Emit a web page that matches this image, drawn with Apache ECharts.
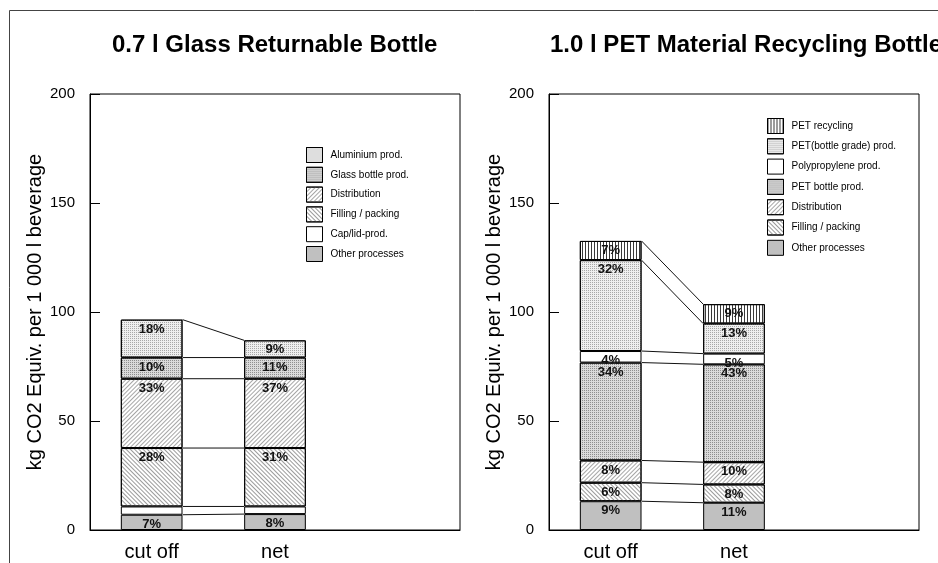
<!DOCTYPE html>
<html><head><meta charset="utf-8">
<script src="https://cdn.jsdelivr.net/npm/echarts@6/dist/echarts.min.js"></script>
<style>html,body{margin:0;padding:0;background:#fff;}#c{width:938px;height:563px;}</style>
</head><body><div id="c"></div>
<script>
// ---------- DATA ----------
const categories = ['cut off', 'net', ''];
const yName = 'kg CO2 Equiv. per 1 000 l beverage';
const titleGlass = '0.7 l Glass Returnable Bottle';
const titlePet = '1.0 l PET Material Recycling Bottle';

// Left chart (stack order bottom -> top)
const glassNames = ['Other processes', 'Cap/lid-prod.', 'Filling / packing', 'Distribution', 'Glass bottle prod.', 'Aluminium prod.'];
const glassOther = [7.0, 7.3];
const glassCap = [3.8, 3.5];
const glassFilling = [26.8, 26.8];
const glassDistribution = [31.8, 31.8];
const glassBottle = [9.7, 9.7];
const glassAluminium = [17.4, 7.9];
const glassOtherPct = ['7%', '8%'];
const glassCapPct = ['', ''];
const glassFillingPct = ['28%', '31%'];
const glassDistributionPct = ['33%', '37%'];
const glassBottlePct = ['10%', '11%'];
const glassAluminiumPct = ['18%', '9%'];

// Right chart (stack order bottom -> top)
const petNames = ['Other processes', 'Filling / packing', 'Distribution', 'PET bottle prod.', 'Polypropylene prod.', 'PET(bottle grade) prod.', 'PET recycling'];
const petOther = [13.2, 12.5];
const petFilling = [8.5, 8.4];
const petDistribution = [10.2, 10.2];
const petBottle = [44.9, 44.9];
const petPolypropylene = [5.3, 4.9];
const petGrade = [41.7, 13.8];
const petRecycling = [8.8, 8.9];
const petOtherPct = ['9%', '11%'];
const petFillingPct = ['6%', '8%'];
const petDistributionPct = ['8%', '10%'];
const petBottlePct = ['34%', '43%'];
const petPolypropylenePct = ['4%', '5%'];
const petGradePct = ['32%', '13%'];
const petRecyclingPct = ['7%', '9%'];

// ---------- STYLES ----------
const FONT = 'Liberation Sans, Arial, Helvetica, sans-serif';
function dots(bg, fg) { return { color: bg, decal: { symbol: 'rect', symbolSize: 1, dashArrayX: [1, 1], dashArrayY: [1, 1], color: fg } }; }
function diag(rot, fg, gap) { return { color: '#ffffff', decal: { symbol: 'rect', symbolSize: 1, dashArrayX: [1, 0], dashArrayY: [1, gap], rotation: rot, color: fg } }; }
const styleMap = {
  'Aluminium prod.': dots('#efefef', '#a8a8a8'),
  'PET(bottle grade) prod.': dots('#efefef', '#a8a8a8'),
  'Glass bottle prod.': dots('#dadada', '#8e8e8e'),
  'PET bottle prod.': dots('#dadada', '#8e8e8e'),
  'Distribution': diag(-Math.PI / 4, '#a6a6a6', 2),
  'Filling / packing': diag(Math.PI / 4, '#9a9a9a', 1.6),
  'Cap/lid-prod.': { color: '#ffffff' },
  'Polypropylene prod.': { color: '#ffffff' },
  'Other processes': { color: '#c0c0c0' },
  'PET recycling': { color: '#ffffff', decal: { symbol: 'rect', symbolSize: 1, dashArrayX: [1, 1.5], dashArrayY: [1, 0], color: '#3a3a3a' } }
};

function bar(name, values, pct, g, stack) {
  const st = styleMap[name];
  return {
    type: 'bar', name, stack, xAxisIndex: g, yAxisIndex: g, barWidth: '50%',
    data: values,
    itemStyle: Object.assign({ borderColor: '#000', borderWidth: 1 }, st),
    label: { show: true, position: 'insideTop', distance: 3, fontSize: 13, fontWeight: 'bold', color: '#111', fontFamily: FONT,
      formatter: p => pct[p.dataIndex] },
    emphasis: { disabled: true }
  };
}
function cumulative(list) {
  const out = []; let a = 0, b = 0;
  list.forEach(v => { a += v[0]; b += v[1]; out.push([a, b]); });
  return out;
}
function connectors(list, g) {
  return {
    type: 'custom', xAxisIndex: g, yAxisIndex: g, silent: true, z: 3,
    dimensions: ['cut', 'net'], encode: { y: ['cut', 'net'] },
    data: cumulative(list),
    renderItem: (params, api) => {
      const half = api.size([1, 0])[0] * 0.25;
      const p1 = api.coord([0, api.value(0)]);
      const p2 = api.coord([1, api.value(1)]);
      return { type: 'line', shape: { x1: p1[0] + half, y1: p1[1], x2: p2[0] - half, y2: p2[1] }, style: { stroke: '#111', lineWidth: 1 } };
    }
  };
}

const glassVals = [glassOther, glassCap, glassFilling, glassDistribution, glassBottle, glassAluminium];
const glassPcts = [glassOtherPct, glassCapPct, glassFillingPct, glassDistributionPct, glassBottlePct, glassAluminiumPct];
const petVals = [petOther, petFilling, petDistribution, petBottle, petPolypropylene, petGrade, petRecycling];
const petPcts = [petOtherPct, petFillingPct, petDistributionPct, petBottlePct, petPolypropylenePct, petGradePct, petRecyclingPct];

const series = [];
glassNames.forEach((n, i) => series.push(bar(n, glassVals[i], glassPcts[i], 0, 'glass')));
petNames.forEach((n, i) => series.push(bar(n, petVals[i], petPcts[i], 1, 'pet')));
series.push(connectors(glassVals, 0));
series.push(connectors(petVals, 1));

function yAxis(g) {
  return {
    gridIndex: g, type: 'value', min: 0, max: 200, interval: 50,
    axisLine: { show: true, lineStyle: { color: '#000', width: 1 } },
    axisTick: { show: true, inside: true, length: 10, lineStyle: { color: '#000' } },
    splitLine: { show: false },
    axisLabel: { fontSize: 15, color: '#000', margin: 15, fontFamily: FONT },
    name: yName, nameLocation: 'middle', nameGap: 45,
    nameTextStyle: { fontSize: 20, color: '#000', fontFamily: FONT }
  };
}
function xAxis(g) {
  return {
    gridIndex: g, type: 'category', data: categories,
    axisLine: { lineStyle: { color: '#000', width: 1 } },
    axisTick: { show: false },
    axisLabel: { fontSize: 20, color: '#000', margin: 12, fontFamily: FONT, interval: 0 }
  };
}
function legend(names, left, top, gap) {
  return {
    orient: 'vertical', left, top, padding: 0, itemWidth: 16, itemHeight: 15, itemGap: gap,
    icon: 'rect', selectedMode: false, data: names,
    itemStyle: { borderColor: '#000', borderWidth: 1 },
    textStyle: { fontSize: 10, color: '#000', fontFamily: FONT, padding: [0, 0, 0, 3] }
  };
}

const chart = echarts.init(document.getElementById('c'), null, { renderer: 'canvas' });
chart.setOption({
  animation: false,
  backgroundColor: '#fff',
  textStyle: { fontFamily: FONT },
  graphic: [
    { type: 'rect', shape: { x: 9.5, y: 10.5, width: 1000, height: 700 }, style: { fill: 'none', stroke: '#444', lineWidth: 1 }, silent: true },
    { type: 'text', x: 112, y: 33, style: { text: titleGlass, align: 'left', verticalAlign: 'top', font: 'bold 24px ' + FONT, fill: '#000' } },
    { type: 'text', x: 550, y: 33, style: { text: titlePet, align: 'left', verticalAlign: 'top', font: 'bold 24px ' + FONT, fill: '#000' } }
  ],
  grid: [
    { left: 90, top: 94, width: 370, height: 436, show: true, borderColor: '#000', borderWidth: 1, backgroundColor: 'transparent' },
    { left: 549, top: 94, width: 370, height: 436, show: true, borderColor: '#000', borderWidth: 1, backgroundColor: 'transparent' }
  ],
  xAxis: [xAxis(0), xAxis(1)],
  yAxis: [yAxis(0), yAxis(1)],
  legend: [
    legend(glassNames.slice().reverse(), 306, 147, 3.8),
    legend(petNames.slice().reverse(), 767, 118, 4.3)
  ],
  series
});
</script></body></html>
